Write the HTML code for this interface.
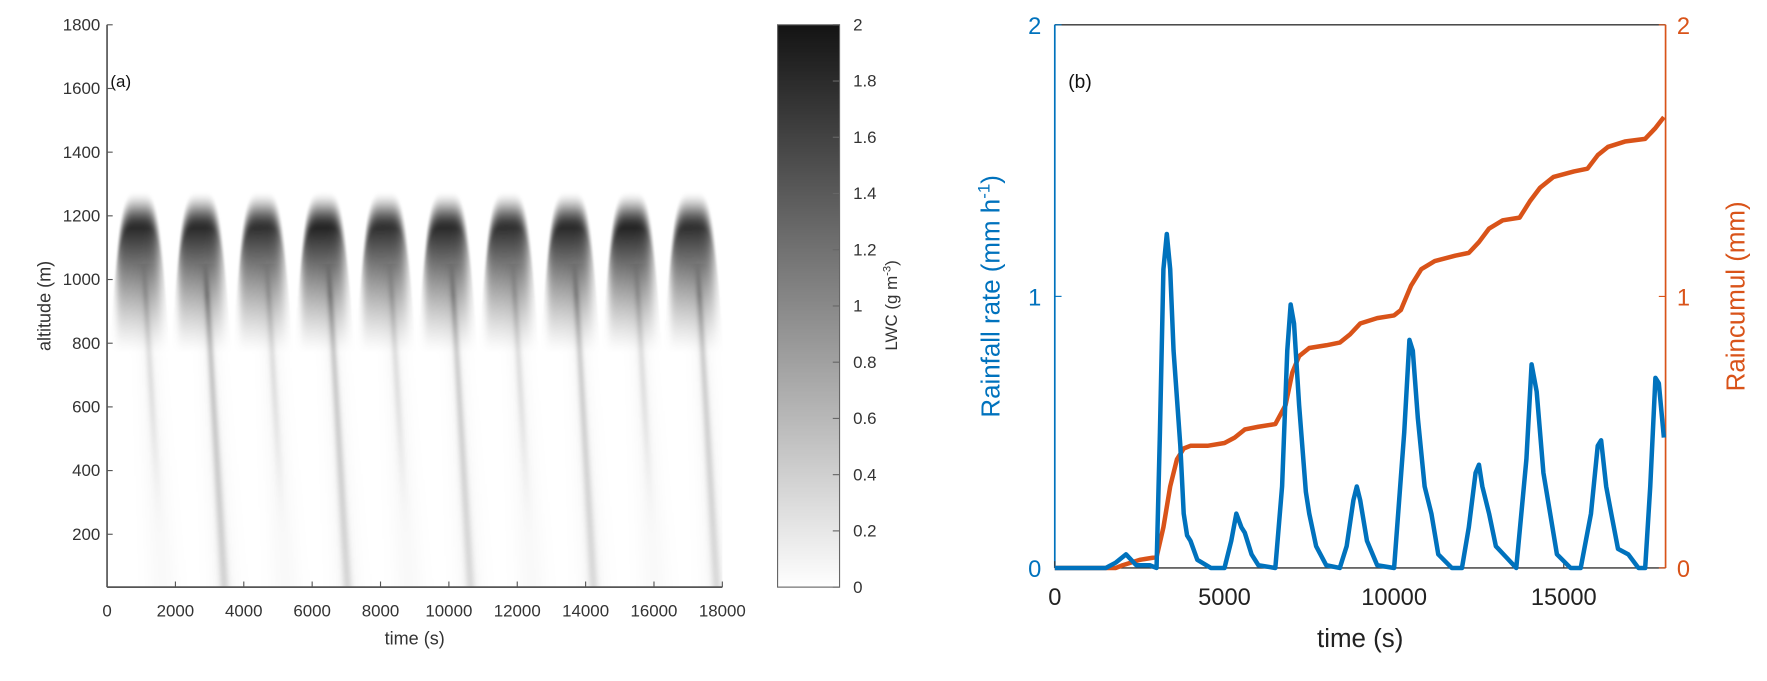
<!DOCTYPE html>
<html><head><meta charset="utf-8">
<style>
html,body{margin:0;padding:0;background:#fff;}
body{width:1767px;height:681px;overflow:hidden;position:relative;font-family:"Liberation Sans",Arial,sans-serif;}
#wrap{position:absolute;left:0;top:0;width:1568px;height:604px;transform:scale(1.12691);transform-origin:0 0;}
svg{position:absolute;left:0;top:0;}
canvas{position:absolute;}
</style></head>
<body>
<div id="wrap">
<canvas id="heat" width="546" height="499" style="left:95px;top:22px;width:546px;height:499px"></canvas>
<canvas id="cbar" width="55" height="499" style="left:690px;top:22px;width:55px;height:499px"></canvas>
<svg id="svg" width="1568" height="604"></svg>
</div>
<script>
// ---- Panel (a) data ----
const plumeTimes = [950, 2750, 4550, 6350, 8150, 9950, 11750, 13550, 15350, 17150];
const plumeIntensity = [1.8, 1.8, 1.75, 1.85, 1.75, 1.8, 1.75, 1.8, 1.85, 1.75];
const streakStrength = [0.3, 0.6, 0.3, 0.55, 0.3, 0.5, 0.3, 0.5, 0.3, 0.5];
const xTicksA = [0,2000,4000,6000,8000,10000,12000,14000,16000,18000];
const yTicksA = [200,400,600,800,1000,1200,1400,1600,1800];
const cbTicks = [0,0.2,0.4,0.6,0.8,1,1.2,1.4,1.6,1.8,2];
// ---- Panel (b) data ----
const rateT = [0,1500,1800,2100,2400,2800,3000,3100,3200,3300,3400,3500,3700,3800,3900,4000,4200,4600,5000,5200,5350,5500,5600,5800,6000,6500,6700,6850,6950,7050,7200,7400,7500,7700,8000,8400,8600,8800,8900,9000,9200,9500,10000,10300,10450,10550,10700,10900,11100,11300,11700,12000,12200,12400,12500,12600,12800,13000,13300,13600,13900,14050,14200,14400,14600,14800,15200,15500,15800,16000,16100,16250,16400,16600,16900,17200,17400,17550,17700,17800,17950];
const rateV = [0,0,0.02,0.05,0.01,0.01,0,0.5,1.1,1.23,1.1,0.8,0.45,0.2,0.12,0.1,0.03,0,0,0.1,0.2,0.15,0.13,0.05,0.01,0,0.3,0.8,0.97,0.9,0.6,0.28,0.2,0.08,0.01,0,0.08,0.25,0.3,0.25,0.1,0.01,0,0.5,0.84,0.8,0.55,0.3,0.2,0.05,0,0,0.15,0.35,0.38,0.3,0.2,0.08,0.04,0,0.4,0.75,0.65,0.35,0.2,0.05,0,0,0.2,0.45,0.47,0.3,0.2,0.07,0.05,0,0,0.3,0.7,0.68,0.48];
const cumT = [0,1800,2000,2500,3000,3200,3400,3600,3800,4000,4500,5000,5300,5600,6000,6500,6800,7000,7200,7500,8000,8400,8700,9000,9500,10000,10200,10500,10800,11200,11800,12200,12500,12800,13200,13700,14000,14300,14700,15300,15700,16000,16300,16800,17400,17700,17950];
const cumV = [0,0,0.01,0.03,0.04,0.15,0.3,0.4,0.44,0.45,0.45,0.46,0.48,0.51,0.52,0.53,0.6,0.72,0.78,0.81,0.82,0.83,0.86,0.9,0.92,0.93,0.95,1.04,1.1,1.13,1.15,1.16,1.2,1.25,1.28,1.29,1.35,1.4,1.44,1.46,1.47,1.52,1.55,1.57,1.58,1.62,1.66];
const xTicksB = [0,5000,10000,15000];
const yTicksB = [0,1,2];

const A = {x0:95, x1:641, y0:521, y1:22, zmin:34, zmax:1800, tmax:18000};
const ax = t => A.x0 + t/A.tmax*(A.x1-A.x0);
const ay = z => A.y0 - (z-A.zmin)/(A.zmax-A.zmin)*(A.y0-A.y1);
const B = {x0:936, x1:1478, y0:504, y1:22, tmax:18000};
const bx = t => B.x0 + t/B.tmax*(B.x1-B.x0);
const by = v => B.y0 - v/2*(B.y0-B.y1);

const NS='http://www.w3.org/2000/svg';
const svg=document.getElementById('svg');
function mk(tag,attrs,parent){const e=document.createElementNS(NS,tag);for(const k in attrs)e.setAttribute(k,attrs[k]);(parent||svg).appendChild(e);return e;}
function txt(s,attrs,parent){const e=mk('text',attrs,parent);e.textContent=s;return e;}
const sstep=(a,b,x)=>{const u=Math.min(1,Math.max(0,(x-a)/(b-a)));return u*u*(3-2*u);};

function lwc(t,z){
  let v=0;
  for(let i=0;i<plumeTimes.length;i++){
    const dt=t-plumeTimes[i];
    if(dt>-1100&&dt<1400){
      const q=Math.abs(dt)/650;
      const ztop=1280-140*q*q*q*q;
      const topF=sstep(ztop,ztop-120,z);
      const zb=770;
      const low=Math.pow(Math.max(0,Math.min(1,(z-zb)/(1160-zb))),1.25);
      const right=560+(1190-z)*0.3;
      const g=1/(1+Math.exp((dt-right)/90))*1/(1+Math.exp((-660-dt)/60));
      v+=plumeIntensity[i]*topF*low*g;
    }
    if(z<1050){
      const tl=plumeTimes[i]+150+(1000-z)*0.55;
      const w=90+(1000-z)*0.06;
      const d=(t-tl)/w;
      if(Math.abs(d)<8){
        let s=streakStrength[i]*(z>800?0.7:0.5+0.2*(z/800));
        if(streakStrength[i]<0.4) s*=sstep(150,700,z);
        if(z>950)s*=Math.max(0,(1050-z)/100);
        v+=s*Math.exp(-d*d)+0.05*Math.exp(-d*d/9);
      }
    }
  }
  return Math.min(2,v);
}
const gray = v => Math.round(255 - v/2*235);
(function(){
  const c=document.getElementById('heat'),ctx=c.getContext('2d');
  const W=c.width,H=c.height,img=ctx.createImageData(W,H);
  for(let py=0;py<H;py++){
    const z=A.zmax-(py+0.5)/H*(A.zmax-A.zmin);
    for(let px=0;px<W;px++){
      const t=(px+0.5)/W*A.tmax;
      const g=gray(lwc(t,z)),k=(py*W+px)*4;
      img.data[k]=g;img.data[k+1]=g;img.data[k+2]=g;img.data[k+3]=255;
    }
  }
  ctx.putImageData(img,0,0);
  const cb=document.getElementById('cbar'),cc=cb.getContext('2d');
  for(let py=0;py<cb.height;py++){const g=gray(2*(1-py/cb.height));cc.fillStyle=`rgb(${g},${g},${g})`;cc.fillRect(0,py,cb.width,1);}
})();

const ga=mk('g',{});
mk('line',{x1:A.x0,y1:A.y1,x2:A.x0,y2:A.y0,stroke:'#555','stroke-width':1.5,},ga);
mk('line',{x1:A.x0,y1:A.y0,x2:A.x1,y2:A.y0,stroke:'#555','stroke-width':1.5,},ga);
xTicksA.forEach(t=>{
  mk('line',{x1:ax(t),y1:A.y0,x2:ax(t),y2:A.y0-5,stroke:'#555'},ga);
  const e=txt(String(t),{x:ax(t),y:A.y0+26,'text-anchor':'middle','font-size':15,fill:'#333'},ga);
  
});
yTicksA.forEach(z=>{
  mk('line',{x1:A.x0,y1:ay(z),x2:A.x0+5,y2:ay(z),stroke:'#555'},ga);
  const e=txt(String(z),{x:A.x0-6,y:ay(z)+5,'text-anchor':'end','font-size':15,fill:'#333'},ga);
  
});
txt('time (s)',{x:(A.x0+A.x1)/2,y:572,'text-anchor':'middle','font-size':16,fill:'#333',},ga);
txt('altitude (m)',{x:0,y:0,transform:`translate(45,${(A.y0+A.y1)/2}) rotate(-90)`,'text-anchor':'middle','font-size':16,fill:'#333',},ga);
txt('(a)',{x:98,y:77,'font-size':15,fill:'#111',},ga);
mk('rect',{x:690,y:22,width:55,height:499,fill:'none',stroke:'#666','stroke-width':1,});
cbTicks.forEach(v=>{
  const y=521-v/2*499;
  mk('line',{x1:739,y1:y,x2:745,y2:y,stroke:'#666'});
  const e=txt(String(v),{x:757,y:y+5,'font-size':15,fill:'#333'});
  
});
const lw=txt('',{x:0,y:0,transform:'translate(796,271) rotate(-90)','text-anchor':'middle','font-size':15,fill:'#333',});
lw.innerHTML='LWC (g m<tspan dy="-6" font-size="10">-3</tspan><tspan dy="6">)</tspan>';

const gb=mk('g',{});
const BLUE='#0072BD',ORG='#D95319';
mk('line',{x1:B.x0,y1:B.y1,x2:B.x1,y2:B.y1,stroke:'#333','stroke-width':1.2,},gb);
mk('line',{x1:B.x0,y1:B.y0,x2:B.x1,y2:B.y0,stroke:'#333','stroke-width':1.2,},gb);
mk('line',{x1:B.x0,y1:B.y1,x2:B.x0,y2:B.y0,stroke:BLUE,'stroke-width':1.5,},gb);
mk('line',{x1:B.x1,y1:B.y1,x2:B.x1,y2:B.y0,stroke:ORG,'stroke-width':1.5,},gb);
xTicksB.forEach(t=>{
  mk('line',{x1:bx(t),y1:B.y0,x2:bx(t),y2:B.y0-6,stroke:'#333'},gb);
  const e=txt(String(t),{x:bx(t),y:B.y0+33,'text-anchor':'middle','font-size':21,fill:'#222'},gb);
  
});
yTicksB.forEach(v=>{
  mk('line',{x1:B.x0,y1:by(v),x2:B.x0+6,y2:by(v),stroke:BLUE},gb);
  mk('line',{x1:B.x1,y1:by(v),x2:B.x1-6,y2:by(v),stroke:ORG},gb);
  const e=txt(String(v),{x:B.x0-12,y:by(v)+8,'text-anchor':'end','font-size':21,fill:BLUE},gb);
  
  const f=txt(String(v),{x:B.x1+10,y:by(v)+8,'font-size':21,fill:ORG},gb);
  
});
const pts=(T,V)=>T.map((t,i)=>bx(t).toFixed(1)+','+by(V[i]).toFixed(1)).join(' ');
mk('polyline',{points:pts(cumT,cumV),fill:'none',stroke:ORG,'stroke-width':4,'stroke-linejoin':'round',},gb);
mk('polyline',{points:pts(rateT,rateV),fill:'none',stroke:BLUE,'stroke-width':4,'stroke-linejoin':'round',},gb);
txt('time (s)',{x:(B.x0+B.x1)/2,y:574,'text-anchor':'middle','font-size':23,fill:'#222',},gb);
const rl=txt('',{x:0,y:0,transform:`translate(887,${(B.y0+B.y1)/2}) rotate(-90)`,'text-anchor':'middle','font-size':23,fill:BLUE,},gb);
rl.innerHTML='Rainfall rate (mm h<tspan dy="-9" font-size="15">-1</tspan><tspan dy="9">)</tspan>';
txt('Raincumul (mm)',{x:0,y:0,transform:`translate(1548,${(B.y0+B.y1)/2}) rotate(-90)`,'text-anchor':'middle','font-size':23,fill:ORG,},gb);
txt('(b)',{x:948,y:78,'font-size':17,fill:'#111',},gb);
</script>
</body></html>
